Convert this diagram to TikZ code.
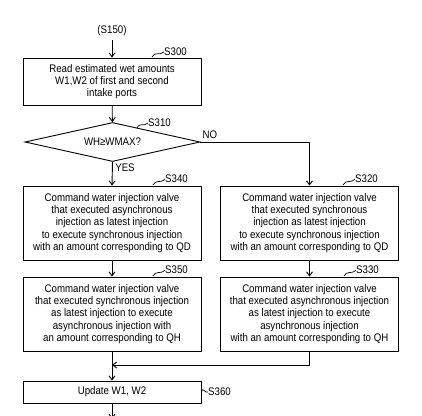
\documentclass[tikz,border=0pt]{standalone}
\usepackage{fontspec}
\setmainfont{Liberation Sans}[FakeStretch=0.88]
\usetikzlibrary{arrows.meta,shapes.geometric}
\begin{document}
\begin{tikzpicture}[x=1pt,y=-1pt,
  every node/.style={font=\fontsize{11}{12.2}\selectfont},
  procbox/.style={draw, line width=0.9pt, minimum width=178pt, minimum height=74pt, align=center, inner sep=0pt},
  flow/.style={line width=0.9pt, -{Straight Barb[length=4pt,width=6pt]}},
  tag/.style={inner sep=0pt, anchor=west},
  tildeline/.style={line width=0.7pt}]
\useasboundingbox (0,0) rectangle (422,415);
\node (start) at (112,31) {(S150)};
\node[procbox, minimum height=47pt] (s300) at (112,81.5) {Read estimated wet amounts\\W1,W2 of first and second\\intake ports};
\node[draw, diamond, line width=0.9pt, aspect=4.4, inner sep=0pt, minimum width=175pt, minimum height=39pt] (s310) at (112.5,142) {WH≥WMAX?};
\node[procbox] (s340) at (112,223) {Command water injection valve\\that executed asynchronous\\injection as latest injection\\to execute synchronous injection\\with an amount corresponding to QD};
\node[procbox] (s320) at (309.5,223) {Command water injection valve\\that executed synchronous\\injection as latest injection\\to execute synchronous injection\\with an amount corresponding to QD};
\node[procbox] (s350) at (112,314) {Command water injection valve\\that executed synchronous injection\\as latest injection to execute\\asynchronous injection with\\an amount corresponding to QH};
\node[procbox] (s330) at (309.5,314) {Command water injection valve\\that executed asynchronous injection\\as latest injection to execute\\asynchronous injection\\with an amount corresponding to QH};
\node[procbox, minimum height=22pt] (s360) at (112,392) {Update W1, W2};
% labels
\node[tag] (l300) at (164,52) {S300};
\node[tag] (l310) at (148,123) {S310};
\node[tag] (l340) at (165,179) {S340};
\node[tag] (l320) at (355,179) {S320};
\node[tag] (l350) at (165,270) {S350};
\node[tag] (l330) at (356,270) {S330};
\node[tag] (l360) at (208,392) {S360};
\node (no) at (210,135) {NO};
\node (yes) at (125,168) {YES};
\draw[tildeline] (152,57) .. controls (155,51) and (159,56) .. (l300.west);
\draw[tildeline] (137,128) .. controls (140,122) and (144,127) .. (l310.west);
\draw[tildeline] (153,185) .. controls (156,179) and (160,184) .. (l340.west);
\draw[tildeline] (343,185) .. controls (346,179) and (350,184) .. (l320.west);
\draw[tildeline] (153,276) .. controls (156,270) and (160,275) .. (l350.west);
\draw[tildeline] (344,276) .. controls (347,270) and (351,275) .. (l330.west);
\draw[tildeline] (s360.east) .. controls (203,386) and (205,394) .. (l360.west);
% connectors
\coordinate (m) at (112,365);
\coordinate (endpt) at (112,419);
\draw[flow] (start) -- (s300);
\draw[flow] (s300) -- (s310);
\draw[flow] (s310.south) -- (s340.north);
\draw[flow] (s310.east) -| (s320.north);
\draw[flow] (s340) -- (s350);
\draw[flow] (s320) -- (s330);
\draw[flow] (s330.south) |- (m);
\draw[flow] (s350) -- (s360);
\draw[flow] (s360) -- (endpt);
\end{tikzpicture}
\end{document}
